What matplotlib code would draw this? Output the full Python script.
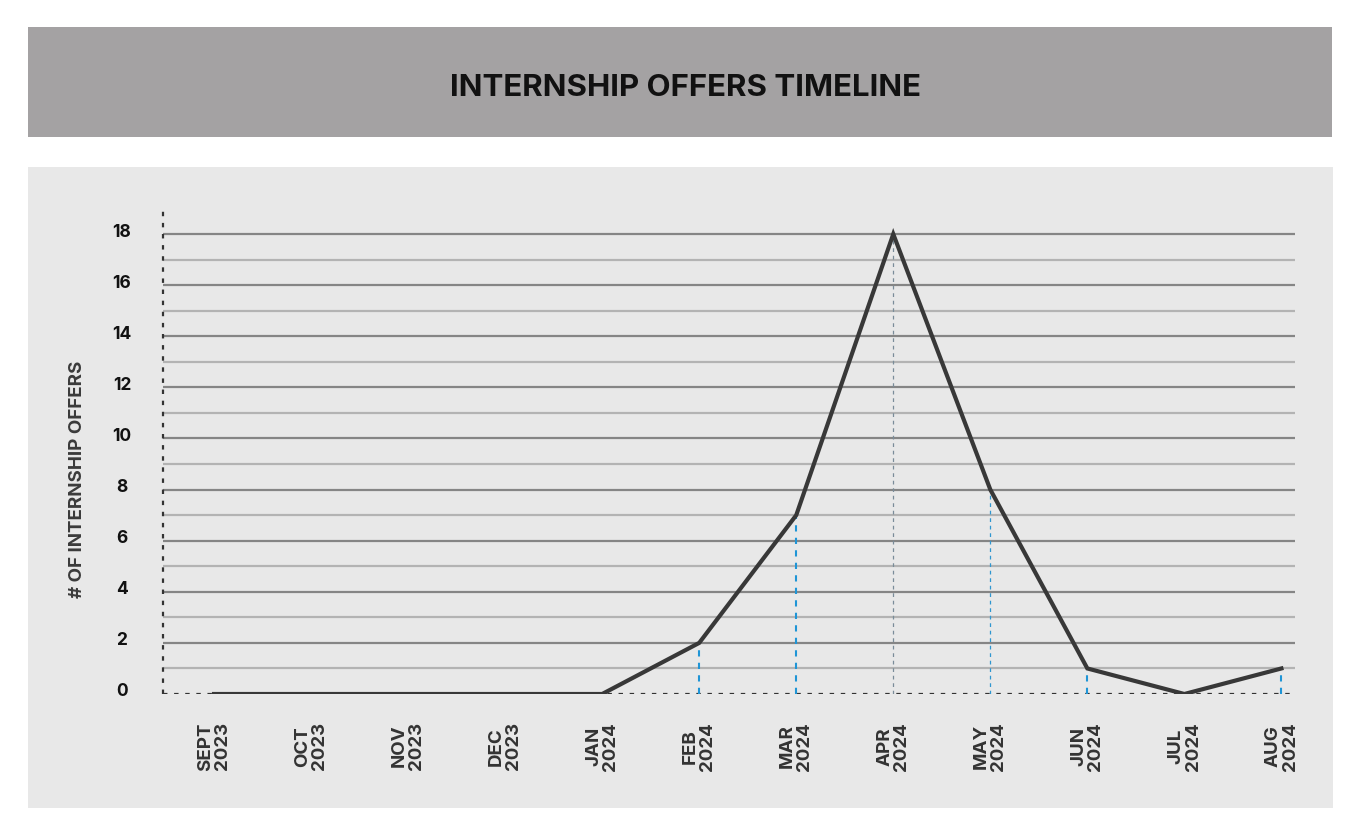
import matplotlib.pyplot as plt
from matplotlib.patches import Rectangle
from matplotlib.transforms import ScaledTranslation

plt.rcParams['font.family'] = ['Inter', 'DejaVu Sans']

MONTHS = ['SEPT\n2023', 'OCT\n2023', 'NOV\n2023', 'DEC\n2023', 'JAN\n2024', 'FEB\n2024',
          'MAR\n2024', 'APR\n2024', 'MAY\n2024', 'JUN\n2024', 'JUL\n2024', 'AUG\n2024']
OFFERS = [0, 0, 0, 0, 0, 2, 7, 18, 8, 1, 0, 1]
Y_TICKS = [0, 2, 4, 6, 8, 10, 12, 14, 16, 18]
# drop lines under these months
BLUE_DROPS = ['FEB\n2024', 'MAR\n2024', 'JUN\n2024', 'AUG\n2024']
THIN_DROPS = ['APR\n2024', 'MAY\n2024']

W, H = 1370, 837
fig = plt.figure(figsize=(W / 100, H / 100), dpi=100)
fig.patch.set_facecolor('white')

# title banner and chart panel
fig.patches.append(Rectangle((28 / W, 1 - 138 / H), 1304 / W, 110 / H,
                             transform=fig.transFigure, facecolor='#a4a2a3', edgecolor='none', zorder=-1))
fig.patches.append(Rectangle((28 / W, 1 - 809 / H), 1305 / W, 641 / H,
                             transform=fig.transFigure, facecolor='#e8e8e8', edgecolor='none', zorder=-1))
fig.text(0.5, 1 - 88 / H, 'INTERNSHIP OFFERS TIMELINE', ha='center', va='center',
         fontsize=22.5, fontweight='bold', color='#111111')

ax = fig.add_axes([163 / W, 1 - 695 / H, (1295 - 163) / W, (695 - 208) / H])
ax.set_zorder(1)
ax.set_facecolor('none')
x = list(range(len(MONTHS)))
ax.set_xlim(-0.526, 11.14)
ax.set_ylim(0, 19.06)

# horizontal grid, darker on even values
for v in range(1, 19):
    ax.axhline(v, color='#858585' if v % 2 == 0 else '#b3b3b3', lw=1.6, zorder=1)

# dotted axes
ax.axhline(0, color='#333333', lw=1.6, ls=(0, (2, 3)), zorder=2)
ax.axvline(-0.526, color='#333333', lw=1.6, ls=(0, (2, 3)), zorder=2, clip_on=False)

for m, v in zip(MONTHS, OFFERS):
    if m in BLUE_DROPS:
        ax.plot([MONTHS.index(m)] * 2, [0, v], color='#1f95d6', lw=1.5, ls=(0, (3, 3)), zorder=2)
    elif m in THIN_DROPS:
        col = '#7a8c99' if m.startswith('APR') else '#2f96d0'
        ax.plot([MONTHS.index(m)] * 2, [0, v], color=col, lw=0.9, ls=(0, (3, 3)), zorder=2)

ax.plot(x, OFFERS, color='#383838', lw=3, solid_joinstyle='miter', zorder=3)

for s in ax.spines.values():
    s.set_visible(False)
ax.tick_params(length=0)
ax.set_yticks(Y_TICKS)
ax.set_yticklabels([str(t) for t in Y_TICKS], fontsize=12.5, fontweight='bold', color='#111111')
ax.tick_params(axis='y', pad=29.5)
off = ScaledTranslation(0, 5 / 100, fig.dpi_scale_trans)
for lab in ax.get_yticklabels():
    lab.set_ha('center')
    lab.set_transform(lab.get_transform() + off)

ax.set_xticks(x)
ax.set_xticklabels(MONTHS, rotation=90, fontsize=13.5, fontweight='bold', color='#333333',
                   linespacing=1.02, multialignment='center')
ax.tick_params(axis='x', pad=19.5)

fig.text(77 / W, 1 - 479 / H, '# OF INTERNSHIP OFFERS', rotation=90, ha='center', va='center',
         fontsize=13.5, fontweight='bold', color='#3a3a3a')

fig.savefig('out.png', dpi=100, facecolor='white')
